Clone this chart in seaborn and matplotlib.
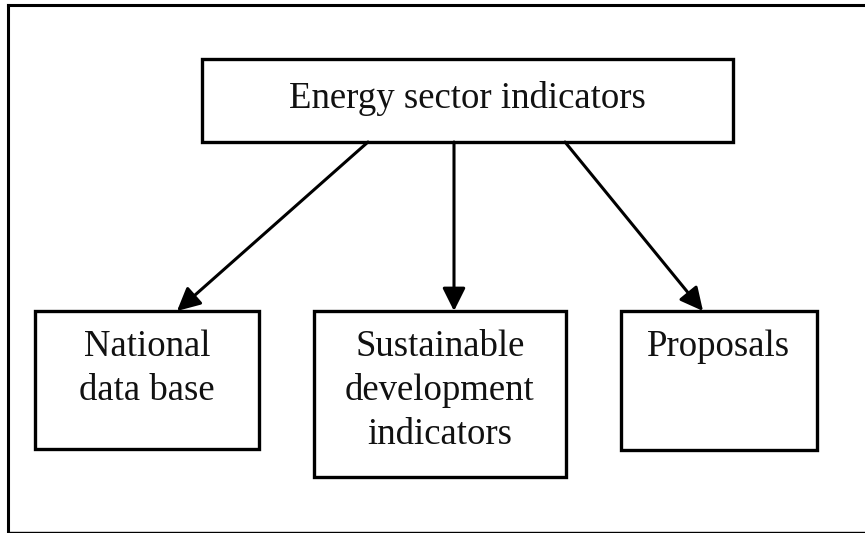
import matplotlib
matplotlib.use("Agg")
import matplotlib.pyplot as plt
import seaborn as sns
from matplotlib.patches import Rectangle

# ---- content ----
root_label = "Energy sector indicators"
child_labels = ["National\ndata base", "Sustainable\ndevelopment\nindicators", "Proposals"]

# ---- layout (pixel coordinates, y downward) ----
W, H = 865, 533
root_box = (202, 59, 733, 142)          # x0, y0, x1, y1
child_boxes = [(35, 311, 259, 449), (314, 311, 566, 477), (621, 311, 817, 450)]
arrow_starts = [(368, 142), (454, 142), (565, 142)]
arrow_ends = [(177, 311), (454, 311), (703, 311)]
root_baseline = 108
child_first_baseline = 356
line_step = 44

sns.set_theme(style="white")
plt.rcParams['font.family'] = ['Liberation Serif', 'DejaVu Serif']

fig = plt.figure(figsize=(W / 100, H / 100), dpi=100)
ax = fig.add_axes([0, 0, 1, 1])
ax.set_xlim(0, W)
ax.set_ylim(H, 0)
ax.axis("off")

# outer frame (right side cut off by image edge)
ax.plot([7.5, 7.5], [4.5, 531.5], color="black", lw=2.2, solid_capstyle="projecting")
ax.plot([7.5, 870], [4.5, 4.5], color="black", lw=2.2, solid_capstyle="projecting")
ax.plot([7.5, 870], [531.5, 531.5], color="black", lw=1.0)

def box(b):
    x0, y0, x1, y1 = b
    ax.add_patch(Rectangle((x0, y0), x1 - x0, y1 - y0, fill=False,
                           edgecolor="black", lw=2.4, joinstyle="miter"))

fs = 26.5
box(root_box)
ax.text((root_box[0] + root_box[2]) / 2, root_baseline, root_label,
        ha="center", va="baseline", fontsize=fs, color="#111111")

for b, lab in zip(child_boxes, child_labels):
    box(b)
    cx = (b[0] + b[2]) / 2
    for i, line in enumerate(lab.split("\n")):
        ax.text(cx, child_first_baseline + i * line_step, line,
                ha="center", va="baseline", fontsize=fs, color="#111111")

for s, e in zip(arrow_starts, arrow_ends):
    ax.annotate("", xy=e, xytext=s,
                arrowprops=dict(arrowstyle="-|>,head_length=0.5,head_width=0.25",
                                mutation_scale=28, lw=2.2, color="black",
                                shrinkA=0, shrinkB=0))

fig.savefig("out.png", dpi=100, facecolor="white")
